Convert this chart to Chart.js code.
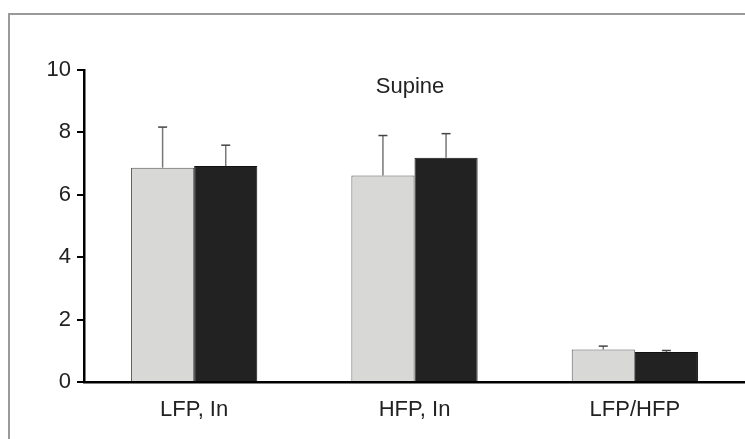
<!DOCTYPE html>
<html>
<head>
<meta charset="utf-8">
<script src="https://cdn.jsdelivr.net/npm/chart.js@4.4.1/dist/chart.umd.min.js"></script>
<style>
  html, body { margin: 0; padding: 0; background: #fff; }
  #wrap { width: 745px; height: 439px; position: relative; }
</style>
</head>
<body>
<div id="wrap"><canvas id="supineChart"></canvas></div>
<script>
// data
var categories = ["LFP, In", "HFP, In", "LFP/HFP"];
var lightValues = [6.87, 6.62, 1.04];
var lightErrors = [1.30, 1.28, 0.11];
var darkValues = [6.92, 7.19, 0.96];
var darkErrors = [0.67, 0.77, 0.05];
var yTicks = [0, 2, 4, 6, 8, 10];

// frame round the figure + title text
var framePlugin = {
  id: "frame",
  beforeDraw: function (chart) {
    var c = chart.ctx;
    c.save();
    c.strokeStyle = "#9a9a9a";
    c.lineWidth = 2;
    c.beginPath();
    c.moveTo(9, 460);
    c.lineTo(9, 14);
    c.lineTo(760, 14);
    c.stroke();
    c.restore();
  },
  afterDraw: function (chart) {
    var c = chart.ctx;
    c.save();
    c.fillStyle = "#222";
    c.font = "22px 'Liberation Sans', Arial, sans-serif";
    c.textAlign = "center";
    c.textBaseline = "middle";
    c.fillText("Supine", chart.chartArea.left + 326, 87);
    c.restore();
  }
};

// upper error bars only
var errorBarPlugin = {
  id: "errorBars",
  afterDatasetsDraw: function (chart) {
    var c = chart.ctx;
    var yScale = chart.scales.y;
    c.save();
    chart.data.datasets.forEach(function (ds, i) {
      var meta = chart.getDatasetMeta(i);
      meta.data.forEach(function (bar, j) {
        var top = yScale.getPixelForValue(ds.data[j] + ds.errors[j]);
        c.strokeStyle = "#777";
        c.lineWidth = 1.5;
        c.beginPath();
        c.moveTo(bar.x, bar.y);
        c.lineTo(bar.x, top);
        c.stroke();
        c.strokeStyle = "#444";
        c.beginPath();
        c.moveTo(bar.x - 4.5, top);
        c.lineTo(bar.x + 4.5, top);
        c.stroke();
      });
    });
    c.restore();
  }
};

var ctx = document.getElementById("supineChart");
var myBarChart = new Chart(ctx, {
  type: "bar",
  data: {
    labels: categories,
    datasets: [{
      label: "light",
      data: lightValues,
      errors: lightErrors,
      backgroundColor: "#d8d8d6",
      borderColor: "#555",
      borderWidth: 1,
      categoryPercentage: 0.573,
      barPercentage: 1
    }, {
      label: "dark",
      data: darkValues,
      errors: darkErrors,
      backgroundColor: "#222222",
      borderColor: "#111",
      borderWidth: 1,
      categoryPercentage: 0.573,
      barPercentage: 1
    }]
  },
  options: {
    responsive: true,
    maintainAspectRatio: false,
    animation: false,
    layout: { padding: { top: 70, right: 0, bottom: 0, left: 0 } },
    plugins: {
      legend: { display: false },
      tooltip: { enabled: false }
    },
    scales: {
      x: {
        grid: { display: false },
        border: { color: "#000", width: 2.5 },
        ticks: {
          color: "#222",
          padding: 7,
          font: { size: 22, family: "'Liberation Sans', Arial, sans-serif" }
        },
        afterFit: function (scale) { scale.height = 57; }
      },
      y: {
        min: 0,
        max: 10,
        afterBuildTicks: function (scale) {
          scale.ticks = yTicks.map(function (v) { return { value: v }; });
        },
        grid: {
          drawOnChartArea: false,
          drawTicks: true,
          tickLength: 7,
          color: "#000",
          lineWidth: 2
        },
        border: { color: "#000", width: 2.5 },
        ticks: {
          color: "#222",
          padding: 6,
          font: { size: 22, family: "'Liberation Sans', Arial, sans-serif" }
        },
        afterFit: function (scale) { scale.width = 84; }
      }
    }
  },
  plugins: [framePlugin, errorBarPlugin]
});
</script>
</body>
</html>
